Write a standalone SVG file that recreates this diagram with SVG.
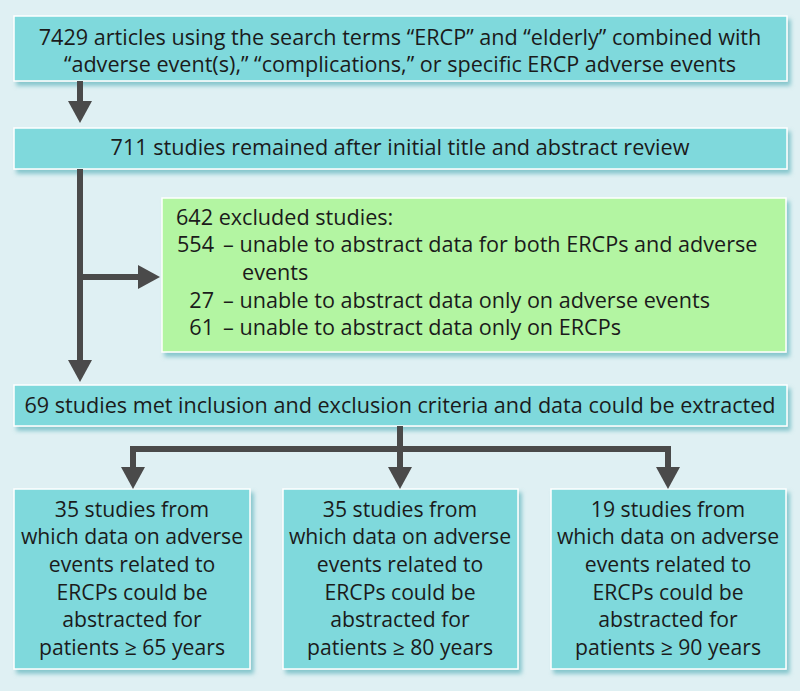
<svg xmlns="http://www.w3.org/2000/svg" width="800" height="691" viewBox="0 0 800 691">
<defs>
<style>
.bg{fill:#dff0f3}
.box{fill:#7fd9dc;stroke:#ffffff;stroke-width:1.5;filter:url(#sh)}
.gbox{fill:#b3f5a2;stroke:#ffffff;stroke-width:1.5;filter:url(#sh)}
text{font-family:"Open Sans","Liberation Sans",sans-serif;font-size:21.6px;fill:#1b1b1b}
.s{font-size:21.2px}
.c{text-anchor:middle}
.r{text-anchor:end}
.ln{stroke:#4a4a4a;stroke-width:6;fill:none}
</style>
<filter id="sh" x="-5%" y="-5%" width="115%" height="125%">
<feDropShadow dx="3" dy="4" stdDeviation="2" flood-color="#5fb3bb" flood-opacity="0.7"/>
</filter>
<marker id="ah" markerUnits="userSpaceOnUse" markerWidth="22" markerHeight="24" refX="0" refY="12" orient="auto">
<path d="M0,0 L22,12 L0,24 z" fill="#4a4a4a"/>
</marker>
</defs>
<rect class="bg" x="0" y="0" width="800" height="691"/>
<g id="n1">
<rect class="box" x="14" y="16" width="773" height="65"/>
<text class="c" x="400" y="45">7429 articles using the search terms “ERCP” and “elderly” combined with</text>
<text class="c" x="400" y="72">“adverse event(s),” “complications,” or specific ERCP adverse events</text>
</g>
<g id="n2">
<rect class="box" x="14" y="128" width="773" height="41"/>
<text class="c" x="400" y="155">711 studies remained after initial title and abstract review</text>
</g>
<g id="n3">
<rect class="gbox" x="162" y="198" width="624" height="154"/>
<text x="176" y="225">642 excluded studies:</text>
<text class="r" x="214" y="252">554</text>
<text x="223" y="252">– unable to abstract data for both ERCPs and adverse</text>
<text x="242" y="280">events</text>
<text class="r" x="214" y="308">27</text>
<text x="223" y="308">– unable to abstract data only on adverse events</text>
<text class="r" x="214" y="335">61</text>
<text x="223" y="335">– unable to abstract data only on ERCPs</text>
</g>
<g id="n4">
<rect class="box" x="14" y="385" width="773" height="41"/>
<text class="c" x="400" y="413">69 studies met inclusion and exclusion criteria and data could be extracted</text>
</g>
<g id="n5">
<rect class="box" x="14" y="489" width="236" height="180"/>
<text class="c s" x="132" y="517">35 studies from</text>
<text class="c s" x="132" y="544">which data on adverse</text>
<text class="c s" x="132" y="572">events related to</text>
<text class="c s" x="132" y="600">ERCPs could be</text>
<text class="c s" x="132" y="627">abstracted for</text>
<text class="c s" x="132" y="655">patients ≥ 65 years</text>
</g>
<g id="n6">
<rect class="box" x="283" y="489" width="235" height="180"/>
<text class="c s" x="400" y="517">35 studies from</text>
<text class="c s" x="400" y="544">which data on adverse</text>
<text class="c s" x="400" y="572">events related to</text>
<text class="c s" x="400" y="600">ERCPs could be</text>
<text class="c s" x="400" y="627">abstracted for</text>
<text class="c s" x="400" y="655">patients ≥ 80 years</text>
</g>
<g id="n7">
<rect class="box" x="551" y="489" width="235" height="180"/>
<text class="c s" x="668" y="517">19 studies from</text>
<text class="c s" x="668" y="544">which data on adverse</text>
<text class="c s" x="668" y="572">events related to</text>
<text class="c s" x="668" y="600">ERCPs could be</text>
<text class="c s" x="668" y="627">abstracted for</text>
<text class="c s" x="668" y="655">patients ≥ 90 years</text>
</g>
<g id="connectors">
<line class="ln" x1="80" y1="81" x2="80" y2="101" marker-end="url(#ah)"/>
<line class="ln" x1="80" y1="169" x2="80" y2="360" marker-end="url(#ah)"/>
<line class="ln" x1="77" y1="277" x2="138" y2="277" marker-end="url(#ah)"/>
<line class="ln" x1="400" y1="426" x2="400" y2="467" marker-end="url(#ah)"/>
<path class="ln" d="M133,467 V449 H668 V467"/>
<line class="ln" x1="133" y1="460" x2="133" y2="467" marker-end="url(#ah)"/>
<line class="ln" x1="668" y1="460" x2="668" y2="467" marker-end="url(#ah)"/>
</g>
</svg>
